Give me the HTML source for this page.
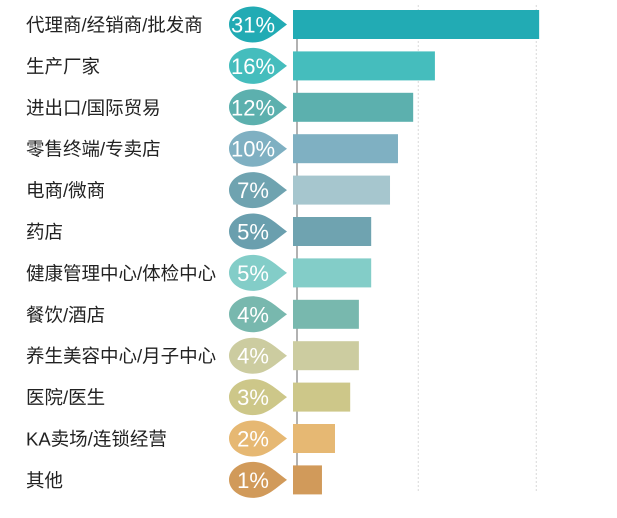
<!DOCTYPE html>
<html><head><meta charset="utf-8"><style>
body{margin:0;background:#fff;width:617px;height:513px;overflow:hidden;font-family:"Liberation Sans","Noto Sans CJK SC",sans-serif}
</style></head><body>
<svg id="chart" width="617" height="513" xmlns="http://www.w3.org/2000/svg"></svg>
<script>
const categories=["代理商/经销商/批发商","生产厂家","进出口/国际贸易","零售终端/专卖店","电商/微商","药店","健康管理中心/体检中心","餐饮/酒店","养生美容中心/月子中心","医院/医生","KA卖场/连锁经营","其他"];
const values=[31,16.6,13.6,11.5,10.4,7.8,7.8,6.1,6.1,4.9,2.8,1];
const valueLabels=["31%","16%","12%","10%","7%","5%","5%","4%","4%","3%","2%","1%"];
const barColors=["#22abb4","#45bdbd","#5cb0ae","#7fb0c2","#a6c6ce","#6fa3b0","#83cdc8","#78b8ae","#cccca0","#cdc789","#e6b873","#d19a5a"];
const dropColors=["#22abb4","#45bdbd","#5cb0ae","#7fb0c2","#6fa3b0","#6a9fae","#83cdc8","#78b8ae","#cccca0","#cdc789","#e6b873","#d19a5a"];
const gridTicks=[14.3,30.6];
const NS="http://www.w3.org/2000/svg";
const svg=document.getElementById('chart');
const x0=293,k=7.24,off=3;
function xlen(v){return (v+off)*k;}
function yb(i){return 10+i*41.4;}
const bh=29;
function mk(t,a){const e=document.createElementNS(NS,t);for(const n in a)e.setAttribute(n,a[n]);svg.appendChild(e);return e;}
gridTicks.forEach((g,i)=>{
  const l=mk('line',{x1:x0+xlen(g),x2:x0+xlen(g),y1:5,y2:492,stroke:'#d8d8d8','stroke-dasharray':'2,2'});
  
  
});
const ax=mk('line',{x1:297,x2:297,y1:38,y2:494,stroke:'#999','stroke-width':1.5});


categories.forEach((c,i)=>{
  const y=yb(i),cy=y+bh/2;
  const r=mk('rect',{x:x0,y:y,width:xlen(values[i]),height:bh,fill:barColors[i]});
  
  
  const t=mk('text',{x:26,y:cy+7,'font-size':18.5,fill:'#222'});
  t.textContent=c;
  
  
  const d=mk('path',{d:`M253 ${cy-18} C267 ${cy-18} 276 ${cy-8} 287 ${cy} C276 ${cy+8} 267 ${cy+18} 253 ${cy+18} C240 ${cy+18} 229 ${cy+10} 229 ${cy} C229 ${cy-10} 240 ${cy-18} 253 ${cy-18}Z`,fill:dropColors[i]});
  
  
  const vt=mk('text',{x:253,y:cy+8,'font-size':22,fill:'#fff','text-anchor':'middle'});
  vt.textContent=valueLabels[i];
  
  
});
</script>
</body></html>
